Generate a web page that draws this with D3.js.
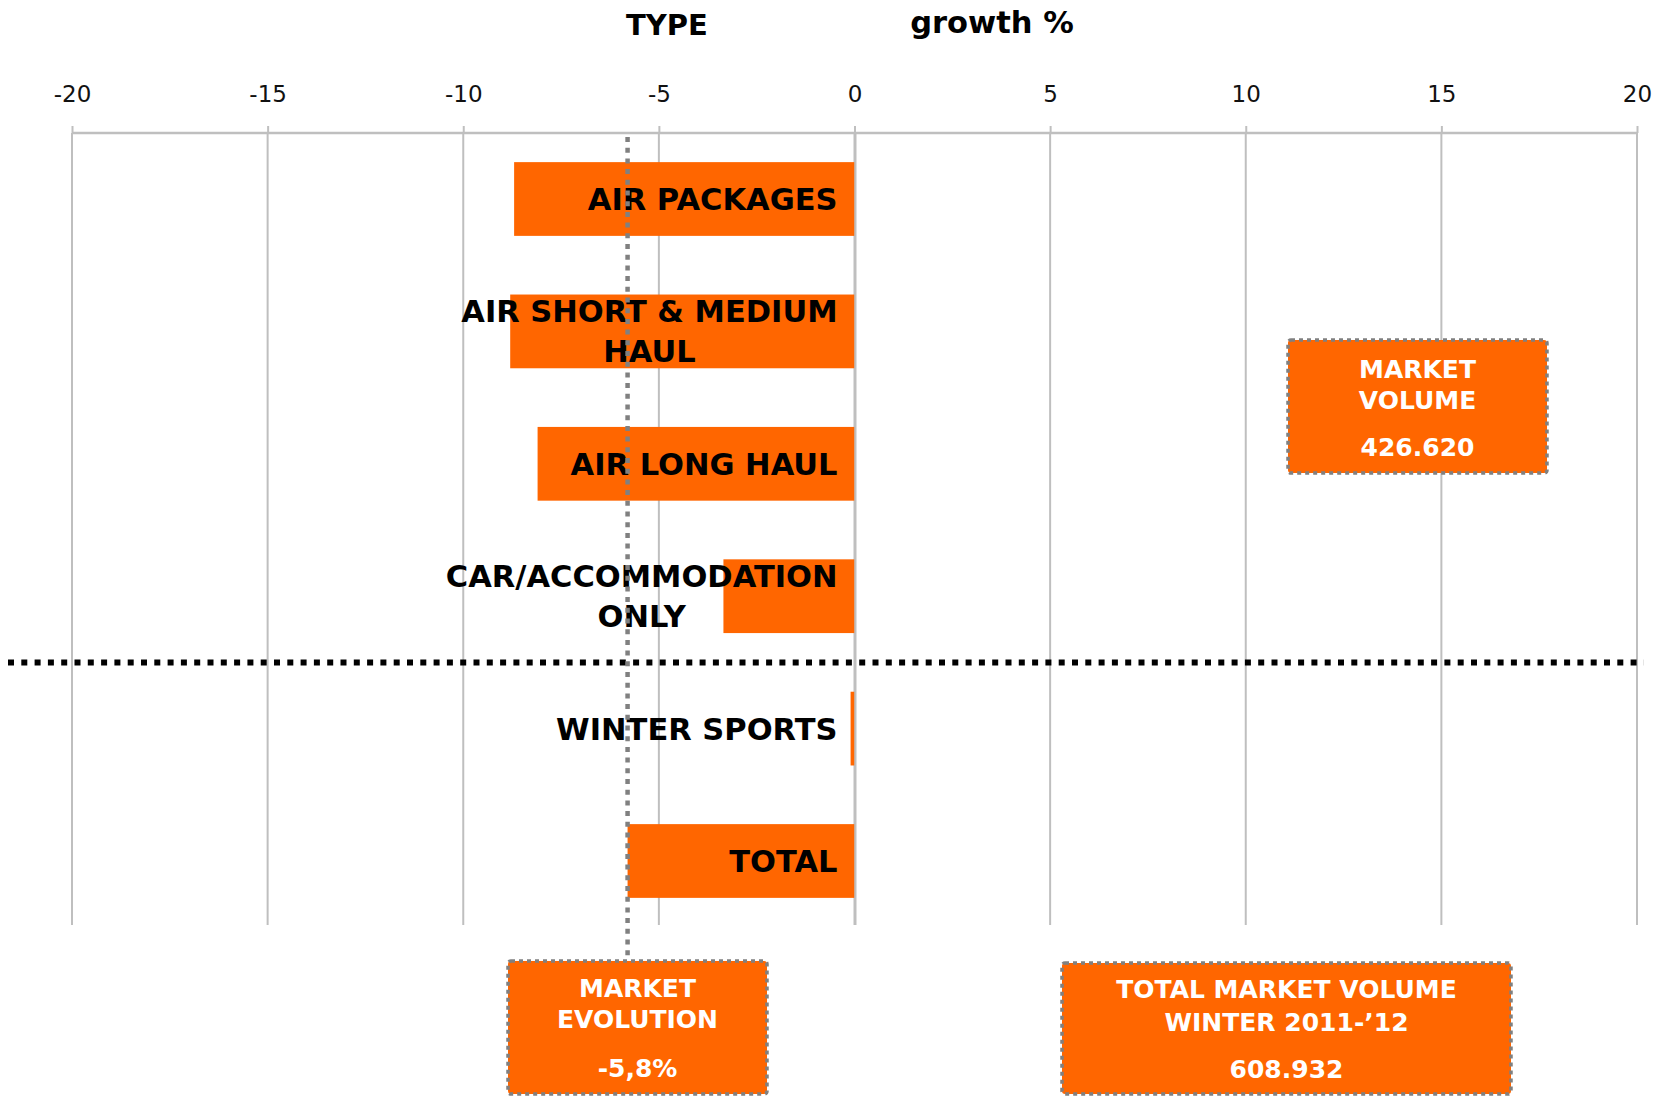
<!DOCTYPE html>
<html>
<head>
<meta charset="utf-8">
<script src="https://cdn.jsdelivr.net/npm/d3@7"></script>
<style>
  html, body { margin: 0; padding: 0; background: #ffffff; }
  svg { display: block; }
  text { font-family: "DejaVu Sans", Verdana, sans-serif; }
</style>
</head>
<body>
<svg id="chart" width="1663" height="1096"></svg>
<script>
// Holiday types and their growth (%) versus the previous winter season
const categories = [
  ["AIR PACKAGES"],
  ["AIR SHORT & MEDIUM", "HAUL"],
  ["AIR LONG HAUL"],
  ["CAR/ACCOMMODATION", "ONLY"],
  ["WINTER SPORTS"],
  ["TOTAL"]
];
const growth = [-8.7, -8.8, -8.1, -3.35, -0.1, -5.8];
const tickValues = [-20, -15, -10, -5, 0, 5, 10, 15, 20];

// Market totals shown in the call-out boxes
const marketEvolution = -5.8;
const marketVolume = "426.620";
const totalVolume = "608.932";
const totalVolumeTitle = ["TOTAL MARKET VOLUME", "WINTER 2011-\u201912"];
const marketVolumeTitle = ["MARKET", "VOLUME"];
const marketEvolutionTitle = ["MARKET", "EVOLUTION"];

const ORANGE = "#FF6600";
const GRID = "#BFBFBF";
const DOT_GREY = "#808080";

const svg = d3.select("#chart");
const keys = categories.map(c => c.join(" "));

const x = d3.scaleLinear().domain([-20, 20]).range([72, 1637]);
const y = d3.scaleBand().domain(keys).range([133, 927])
  .paddingInner(0.443).paddingOuter(0.22);

const gridTop = 133, gridBottom = 925;

// Vertical gridlines
svg.append("g").selectAll("line")
  .data(tickValues)
  .join("line")
  .attr("x1", d => x(d)).attr("x2", d => x(d))
  .attr("y1", gridTop).attr("y2", gridBottom)
  .attr("stroke", GRID).attr("stroke-width", 2);

// Top value axis (plain hyphen for negatives)
const axis = d3.axisTop(x).tickValues(tickValues).tickSize(7).tickPadding(24)
  .tickFormat(d => String(d));
const axisG = svg.append("g").attr("transform", `translate(0,${gridTop})`).call(axis);
axisG.select(".domain").attr("stroke", GRID).attr("stroke-width", 2.5)
  .attr("d", `M${x(-20)},0H${x(20)}`);
axisG.selectAll(".tick line").attr("stroke", GRID).attr("stroke-width", 2);
axisG.selectAll(".tick text")
  .attr("fill", "#111")
  .style("font-family", "'DejaVu Sans', Verdana, sans-serif")
  .style("font-size", "23px");

// Bars
svg.append("g").selectAll("rect")
  .data(growth)
  .join("rect")
  .attr("x", d => x(Math.min(0, d)))
  .attr("width", d => Math.abs(x(d) - x(0)))
  .attr("y", (d, i) => y(keys[i]))
  .attr("height", y.bandwidth())
  .attr("fill", ORANGE);

// Zero line over the bar ends
svg.append("line")
  .attr("x1", x(0) + 1).attr("x2", x(0) + 1)
  .attr("y1", gridTop).attr("y2", gridBottom)
  .attr("stroke", GRID).attr("stroke-width", 2);

// Category labels, right-aligned next to the zero line, lines centred as a block
const labelFont = 30.5;
const lineGap = 40;
const labelRight = x(0) - 17;
const labelG = svg.append("g");
categories.forEach((lines, i) => {
  const cy = y(keys[i]) + y.bandwidth() / 2;
  const g = labelG.append("g");
  const t = g.append("text")
    .attr("font-weight", "bold")
    .attr("font-size", labelFont)
    .attr("fill", "#000")
    .attr("text-anchor", "middle");
  const first = cy - (lines.length - 1) * lineGap / 2 + labelFont * 0.36;
  lines.forEach((ln, j) => {
    t.append("tspan").attr("x", 0).attr("y", first + j * lineGap).text(ln);
  });
  const w = t.node().getBBox().width;
  g.attr("transform", `translate(${labelRight - w / 2},0)`);
});

// Separator between holiday types and winter sports / total
const sepY = (y(keys[3]) + y.bandwidth() + y(keys[4])) / 2;
svg.append("line")
  .attr("x1", 8).attr("x2", 1644)
  .attr("y1", sepY).attr("y2", sepY)
  .attr("stroke", "#000").attr("stroke-width", 6)
  .attr("stroke-dasharray", "6,7.3");

// Market evolution reference line
const evoX = x(marketEvolution);
const evoBox = { x: 508, y: 961, w: 259, h: 133 };
svg.append("line")
  .attr("x1", evoX).attr("x2", evoX)
  .attr("y1", gridTop + 4).attr("y2", evoBox.y)
  .attr("stroke", DOT_GREY).attr("stroke-width", 4.5)
  .attr("stroke-dasharray", "5,5.7");

// Headers
svg.append("text").attr("x", 667).attr("y", 35)
  .attr("text-anchor", "middle").attr("font-weight", "bold").attr("font-size", 29)
  .text("TYPE");
svg.append("text").attr("x", 992).attr("y", 33)
  .attr("text-anchor", "middle").attr("font-weight", "bold").attr("font-size", 30.5)
  .text("growth %");

// Call-out boxes
function callout(box, titleLines, value, baselines) {
  const g = svg.append("g");
  g.append("rect")
    .attr("x", box.x).attr("y", box.y).attr("width", box.w).attr("height", box.h)
    .attr("rx", 3)
    .attr("fill", ORANGE)
    .attr("stroke", DOT_GREY).attr("stroke-width", 3.5)
    .attr("stroke-dasharray", "4,4");
  const cx = box.x + box.w / 2;
  titleLines.concat([value]).forEach((ln, j) => {
    g.append("text")
      .attr("x", cx).attr("y", box.y + baselines[j])
      .attr("text-anchor", "middle")
      .attr("font-weight", "bold").attr("font-size", 25)
      .attr("fill", "#fff")
      .text(ln);
  });
}

const fmtPct = v => (v < 0 ? "-" : "") + Math.abs(v).toFixed(1).replace(".", ",") + "%";

callout({ x: 1288, y: 340, w: 259, h: 133 }, marketVolumeTitle, marketVolume, [38, 69, 116]);
callout(evoBox, marketEvolutionTitle, fmtPct(marketEvolution), [36, 67, 116]);
callout({ x: 1062, y: 963, w: 449, h: 131 }, totalVolumeTitle, totalVolume, [35, 68, 115]);
</script>
</body>
</html>
